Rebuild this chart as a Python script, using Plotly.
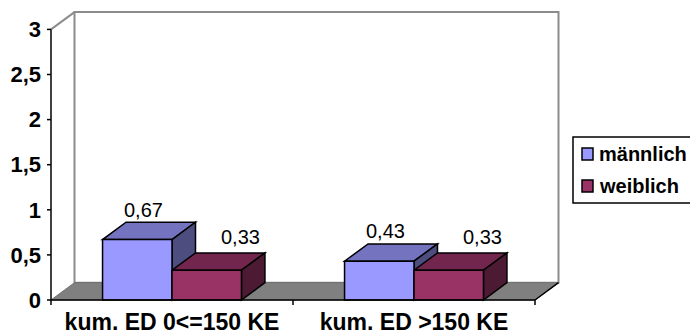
import plotly.graph_objects as go

# ---- data -------------------------------------------------------------
categories = ["kum. ED 0<=150 KE", "kum. ED >150 KE"]
series_names = ["männlich", "weiblich"]
maennlich = [0.67, 0.43]
weiblich = [0.33, 0.33]
y_tick_values = [0, 0.5, 1, 1.5, 2, 2.5, 3]
y_tick_labels = ["0", "0,5", "1", "1,5", "2", "2,5", "3"]

# ---- styling ----------------------------------------------------------
FONT = "Liberation Sans, Arial, sans-serif"
front_colors = ["#9999FF", "#993366"]
top_colors = ["#7373BF", "#73264D"]
side_colors = ["#4D4D80", "#4D1A33"]
EDGE = "#000000"
WALL_LINE = "#8C8C8C"
FLOOR = "#808080"

W, H = 690, 334
PLOT_L, PLOT_R, PLOT_T, PLOT_B = 44, 562, 8, 306     # plot area in px
ORIGIN_X, ORIGIN_Y = 51, 300                          # front corner (x=-0.5, y=0)
PX_PER_CAT, PX_PER_UNIT = 242.0, 90.2
DEPTH_X, DEPTH_Y = 23.5, 17.3                         # 3D depth offset in px

DX = DEPTH_X / PX_PER_CAT
DY = DEPTH_Y / PX_PER_UNIT
x_lo = -0.5 - (ORIGIN_X - PLOT_L) / PX_PER_CAT
x_hi = -0.5 + (PLOT_R - ORIGIN_X) / PX_PER_CAT
y_lo = -(PLOT_B - ORIGIN_Y) / PX_PER_UNIT
y_hi = (ORIGIN_Y - PLOT_T) / PX_PER_UNIT
y_top = y_tick_values[-1]

n_series = 2
BAR_W = 0.287
GROUP_W = BAR_W * n_series
series_values = [maennlich, weiblich]
x_idx = list(range(len(categories)))
x_first, x_last = x_idx[0] - 0.5, x_idx[-1] + 0.5


def poly(points):
    return "M " + " L ".join(f"{x},{y}" for x, y in points) + " Z"


def px_paper_x(px):
    return (px - PLOT_L) / (PLOT_R - PLOT_L)


def px_paper_y(py):
    return (PLOT_B - py) / (PLOT_B - PLOT_T)


fig = go.Figure()
shapes = []
annotations = []

# back wall and floor
shapes.append(dict(type="rect", xref="x", yref="y", layer="below",
                   x0=x_first + DX, x1=x_last + DX, y0=DY, y1=y_top + DY,
                   fillcolor="white", line=dict(color=WALL_LINE, width=2)))
shapes.append(dict(type="line", xref="x", yref="y", layer="below",
                   x0=x_first, y0=y_top, x1=x_first + DX, y1=y_top + DY,
                   line=dict(color=WALL_LINE, width=2)))
shapes.append(dict(type="path", xref="x", yref="y", layer="below",
                   path=poly([(x_first, 0), (x_last, 0), (x_last + DX, DY), (x_first + DX, DY)]),
                   fillcolor=FLOOR, line=dict(color="#6E6E6E", width=1)))

# bars: front faces as bar traces, top and side faces as shapes
for s in range(n_series):
    offset = -GROUP_W / 2 + s * BAR_W
    fig.add_trace(go.Bar(
        x=x_idx, y=series_values[s], name=series_names[s],
        width=BAR_W, offset=offset,
        marker=dict(color=front_colors[s], line=dict(color=EDGE, width=1.5)),
        showlegend=False, hoverinfo="skip",
    ))

for c in x_idx:
    for s in range(n_series):
        v = series_values[s][c]
        left = c - GROUP_W / 2 + s * BAR_W
        right = left + BAR_W
        shapes.append(dict(type="path", xref="x", yref="y", layer="below",
                           path=poly([(left, v), (right, v), (right + DX, v + DY), (left + DX, v + DY)]),
                           fillcolor=top_colors[s], line=dict(color=EDGE, width=1.5)))
        shapes.append(dict(type="path", xref="x", yref="y", layer="below",
                           path=poly([(right, 0), (right, v), (right + DX, v + DY), (right + DX, DY)]),
                           fillcolor=side_colors[s], line=dict(color=EDGE, width=1.5)))

# value labels
label_shift = [(6, 30), (34, 33)]
for s in range(n_series):
    for c in x_idx:
        v = series_values[s][c]
        cx = c - GROUP_W / 2 + (s + 0.5) * BAR_W
        annotations.append(dict(
            x=cx, y=v, xref="x", yref="y", text=f"{v:.2f}".replace(".", ","),
            showarrow=False, xanchor="center", yanchor="middle",
            xshift=label_shift[s][0], yshift=label_shift[s][1],
            font=dict(family=FONT, size=20, color="black")))

# axis lines and tick marks
tick_dx = 4 / PX_PER_CAT
tick_dy = 5 / PX_PER_UNIT
shapes.append(dict(type="line", xref="x", yref="y", x0=x_first, x1=x_first, y0=0, y1=y_top,
                   line=dict(color="black", width=1.5)))
for t in y_tick_values:
    shapes.append(dict(type="line", xref="x", yref="y", x0=x_first - tick_dx, x1=x_first,
                       y0=t, y1=t, line=dict(color="black", width=1.5)))
shapes.append(dict(type="line", xref="x", yref="y", x0=x_first, x1=x_last, y0=0, y1=0,
                   line=dict(color="black", width=1.5)))
shapes.append(dict(type="line", xref="x", yref="y", x0=x_last, x1=x_last + DX, y0=0, y1=DY,
                   line=dict(color="black", width=1.5)))
for b in [x_first] + [c + 0.5 for c in x_idx]:
    shapes.append(dict(type="line", xref="x", yref="y", x0=b, x1=b, y0=0, y1=-tick_dy,
                       line=dict(color="black", width=1.5)))

# legend box
shapes.append(dict(type="rect", xref="paper", yref="paper",
                   x0=px_paper_x(573), x1=px_paper_x(700), y0=px_paper_y(203), y1=px_paper_y(137),
                   line=dict(color="black", width=1.5), fillcolor="white"))
legend_rows = [154, 186]
for s in range(n_series):
    cy = legend_rows[s]
    shapes.append(dict(type="rect", xref="paper", yref="paper",
                       x0=px_paper_x(582), x1=px_paper_x(593),
                       y0=px_paper_y(cy + 6), y1=px_paper_y(cy - 6),
                       fillcolor=front_colors[s], line=dict(color="black", width=1.5)))
    annotations.append(dict(x=px_paper_x(597), y=px_paper_y(cy), xref="paper", yref="paper",
                            text=series_names[s], showarrow=False, xanchor="left", yanchor="middle",
                            font=dict(family=FONT, size=20, color="black", weight="bold")))

fig.update_layout(
    width=W, height=H,
    margin=dict(l=PLOT_L, r=W - PLOT_R, t=PLOT_T, b=H - PLOT_B, pad=0, autoexpand=False),
    paper_bgcolor="white", plot_bgcolor="white",
    barmode="overlay", showlegend=False,
    shapes=shapes, annotations=annotations,
    xaxis=dict(range=[x_lo, x_hi], tickvals=x_idx, ticktext=categories, ticks="",
               showgrid=False, zeroline=False, showline=False, automargin=False,
               ticklabelstandoff=0,
               tickfont=dict(family=FONT, size=23, color="black", weight="bold")),
    yaxis=dict(range=[y_lo, y_hi], tickvals=y_tick_values, ticktext=y_tick_labels, ticks="",
               showgrid=False, zeroline=False, showline=False, automargin=False,
               ticklabelstandoff=2,
               tickfont=dict(family=FONT, size=22, color="black", weight="bold")),
)

fig.write_html("out.html")
